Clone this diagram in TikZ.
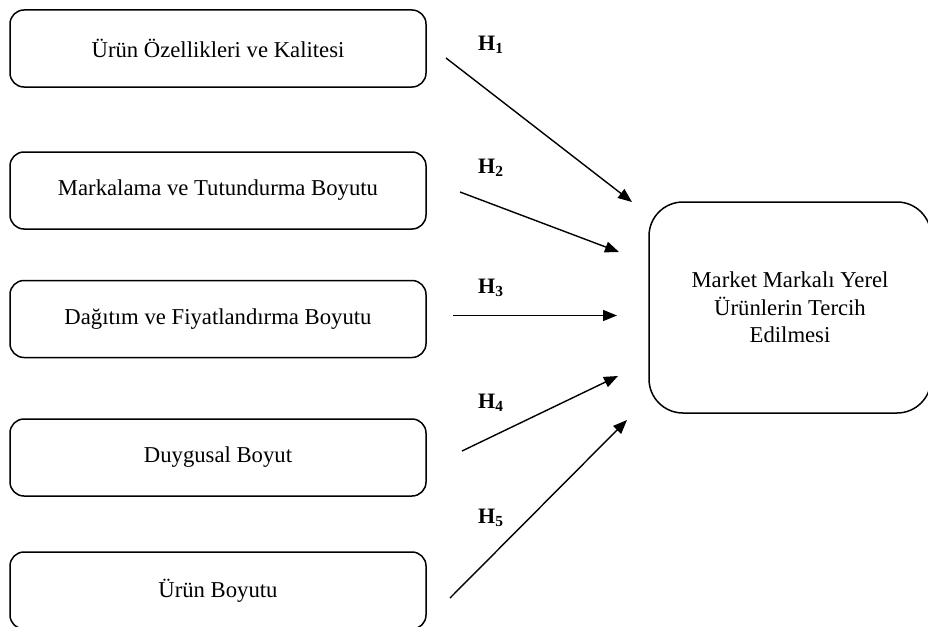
\documentclass[tikz,border=0pt]{standalone}
\usepackage{fontspec}
\setmainfont{Liberation Serif}
\usetikzlibrary{arrows.meta}
\begin{document}
\begin{tikzpicture}[x=1pt,y=-1pt,
  txt/.style={font=\fontsize{22.7}{27.5}\selectfont},
  leftbox/.style={draw, line width=1.5pt, rounded corners=14pt, minimum width=416pt, minimum height=77pt, inner sep=0pt, txt},
  rightbox/.style={draw, line width=1.5pt, rounded corners=34pt, minimum width=282pt, minimum height=211pt, inner sep=0pt, align=center, txt},
  hlab/.style={anchor=west, inner sep=0pt, font=\fontsize{22}{26}\selectfont\bfseries},
  arr/.style={line width=1.4pt, -{Triangle[length=14pt,width=11pt]}}]
\useasboundingbox (0,0) rectangle (928,626);
\fill[white] (0,0) rectangle (928,626);
\node[leftbox] (b1) at (218,48.5) {Ürün Özellikleri ve Kalitesi};
\node[leftbox] (b2) at (218,190.5) {Markalama ve Tutundurma Boyutu};
\node[leftbox] (b3) at (218,319) {Dağıtım ve Fiyatlandırma Boyutu};
\node[leftbox] (b4) at (218,457.5) {Duygusal Boyut};
\node[leftbox] (b5) at (218,590.5) {Ürün Boyutu};
\node[rightbox] (r) at (790,307.5) {Market Markalı Yerel\\Ürünlerin Tercih\\Edilmesi};
\node[hlab] (h1) at (478,45) {H\textsubscript{1}};
\node[hlab] (h2) at (478,168) {H\textsubscript{2}};
\node[hlab] (h3) at (478,288) {H\textsubscript{3}};
\node[hlab] (h4) at (478,403) {H\textsubscript{4}};
\node[hlab] (h5) at (478,518) {H\textsubscript{5}};
\coordinate (s1) at (446,58);  \coordinate (t1) at (632,202);
\coordinate (s2) at (460,192); \coordinate (t2) at (619,252);
\coordinate (s3) at (453,315.5); \coordinate (t3) at (617,315.5);
\coordinate (s4) at (462,451); \coordinate (t4) at (618,376);
\coordinate (s5) at (450,598); \coordinate (t5) at (627,420);
\draw[arr] (s1) -- (t1);
\draw[arr] (s2) -- (t2);
\draw[arr] (s3) -- (t3);
\draw[arr] (s4) -- (t4);
\draw[arr] (s5) -- (t5);
\end{tikzpicture}
\end{document}
